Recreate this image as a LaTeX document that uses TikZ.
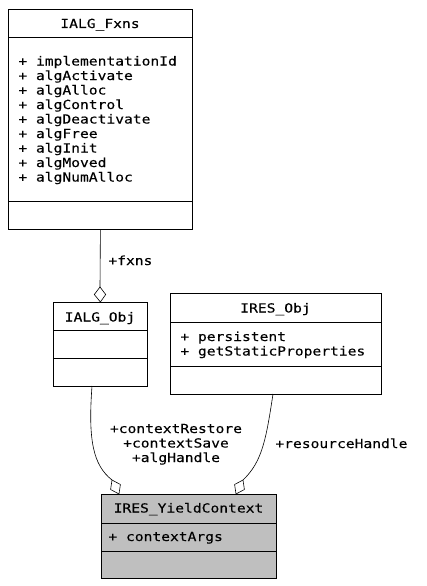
\documentclass[tikz,border=0pt]{standalone}
\usepackage{fontspec}
\newfontfamily\umlfont{DejaVu Sans Mono}[FakeStretch=1.17, FakeBold=0.2]
\begin{document}
\begin{tikzpicture}[x=1pt,y=-1pt,
    font=\umlfont\fontsize{12.5}{14.5}\selectfont,
    line width=0.8pt]
\tikzset{
  classbox/.style={draw=black, line width=0.8pt, inner sep=0pt, anchor=north west},
  txt/.style={inner sep=0pt},
  members/.style={inner sep=0pt, anchor=base west, align=left},
  assoc/.style={draw=black, line width=0.6pt},
  aggr/.style={draw=black, fill=white, line width=0.6pt, line join=miter}
}
\useasboundingbox (0,0) rectangle (427,586);

% IALG_Fxns
\node[classbox, minimum width=184pt, minimum height=220pt] (fxns) at (8,9) {};
\draw (8,37) -- (192,37);
\draw (8,201) -- (192,201);
\node[txt, anchor=base] (fxnsT) at (100,28) {IALG\_Fxns};
% multi-line nodes are placed by the baseline of their last line
\node[members] (fxnsM) at (18,181.5) {+ implementationId\\+ algActivate\\+ algAlloc\\+ algControl\\+ algDeactivate\\+ algFree\\+ algInit\\+ algMoved\\+ algNumAlloc};

% IALG_Obj
\node[classbox, minimum width=94pt, minimum height=84pt] (algobj) at (53,302) {};
\draw (53,330) -- (147,330);
\draw (53,358) -- (147,358);
\node[txt, anchor=base] (algobjT) at (100,321.5) {IALG\_Obj};

% IRES_Obj
\node[classbox, minimum width=211pt, minimum height=101pt] (resobj) at (170,293) {};
\draw (170,322) -- (381,322);
\draw (170,366) -- (381,366);
\node[txt, anchor=base] (resobjT) at (275.5,312.5) {IRES\_Obj};
\node[members] (resobjM) at (180,355.5) {+ persistent\\+ getStaticProperties};

% IRES_YieldContext
\node[classbox, fill={rgb,255:red,191;green,191;blue,191}, minimum width=175pt, minimum height=84pt] (yield) at (101,494) {};
\draw (101,523) -- (276,523);
\draw (101,551) -- (276,551);
\node[txt, anchor=base] (yieldT) at (188.5,512.5) {IRES\_YieldContext};
\node[members] (yieldM) at (108,541) {+ contextArgs};

% fxns aggregation
\coordinate (d1b) at (100,287);
\draw[assoc] (fxns.south) -- (d1b);
\draw[aggr] (d1b) -- (94.3,294.5) -- (algobj.north) -- (105.7,294.5) -- cycle;
\node[txt, anchor=base west] (fxnsL) at (108,265) {+fxns};

% contextRestore / contextSave / algHandle aggregation
\coordinate (l0) at (92,386);
\coordinate (l1) at (112,480);
\coordinate (l2) at (119,494);
\draw[assoc] (l0) .. controls (88,440) and (93,465) .. (l1);
\draw[aggr] (l1) -- (110.6,489.5) -- (l2) -- (120.4,484.5) -- cycle;
\node[txt, align=center, anchor=base] (ctxL) at (176,462) {+contextRestore\\+contextSave\\+algHandle};

% resourceHandle aggregation
\coordinate (r0) at (273,394);
\coordinate (r1) at (243,480);
\coordinate (r2) at (236,494);
\draw[assoc] (r0) .. controls (266,440) and (262,462) .. (r1);
\draw[aggr] (r1) -- (234.6,484.5) -- (r2) -- (244.4,489.5) -- cycle;
\node[txt, anchor=base west] (resL) at (275,448) {+resourceHandle};
\end{tikzpicture}
\end{document}
